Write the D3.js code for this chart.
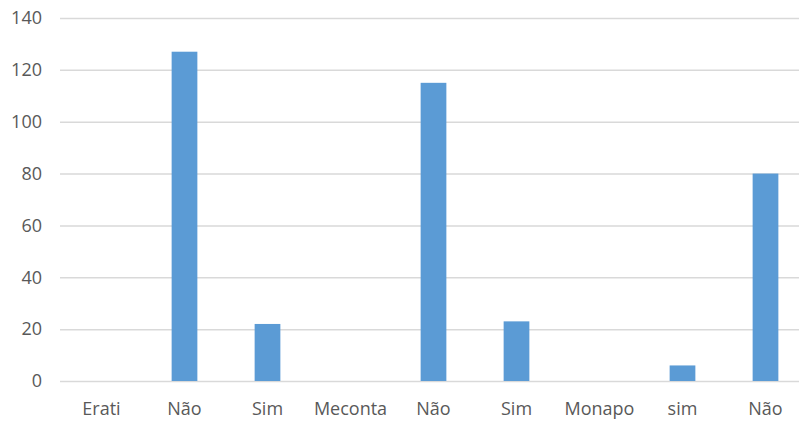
<!DOCTYPE html>
<html>
<head>
<meta charset="utf-8">
<script src="https://cdn.jsdelivr.net/npm/d3@7"></script>
<style>
  html, body { margin: 0; padding: 0; background: #fff; }
  svg { display: block; }
  text { font-family: "Open Sans", "Noto Sans", sans-serif; fill: #595959; }
</style>
</head>
<body>
<svg id="chart" width="799" height="421"></svg>
<script>
// Categories along the x axis and their counts
const categories = ["Erati", "Não", "Sim", "Meconta", "Não", "Sim", "Monapo", "sim", "Não"];
const values = [0, 127, 22, 0, 115, 23, 0, 6, 80];
const yTicks = [0, 20, 40, 60, 80, 100, 120, 140];

const svg = d3.select("#chart");

// Index-based band so repeated labels get their own slot
const x = d3.scaleBand()
  .domain(categories.map((d, i) => i))
  .range([60, 807])
  .paddingInner(0.69)
  .paddingOuter(0.345);

const y = d3.scaleLinear()
  .domain([0, 140])
  .range([381, 18]);

// Horizontal gridlines with value labels
const yAxis = d3.axisLeft(y)
  .tickValues(yTicks)
  .tickSize(-(807 - 60))
  .tickPadding(18)
  .tickFormat(d3.format("d"));

const gy = svg.append("g")
  .attr("transform", "translate(60,0)")
  .call(yAxis);
gy.select(".domain").remove();
gy.selectAll(".tick line")
  .attr("stroke", "#d9d9d9")
  .attr("stroke-width", 1.5);
gy.selectAll(".tick text")
  .style("font-size", "18px")
  .attr("fill", "#595959");

// Bars
svg.append("g")
  .selectAll("rect")
  .data(values)
  .join("rect")
  .attr("x", (d, i) => x(i))
  .attr("y", d => y(d))
  .attr("width", x.bandwidth())
  .attr("height", d => y(0) - y(d))
  .attr("fill", "#5b9bd5");

// Category labels
const xAxis = d3.axisBottom(x)
  .tickSize(0)
  .tickPadding(21)
  .tickFormat(i => categories[i]);

const gx = svg.append("g")
  .attr("transform", "translate(0,381)")
  .call(xAxis);
gx.select(".domain").remove();
gx.selectAll(".tick text")
  .style("font-size", "18px")
  .attr("fill", "#595959");
</script>
</body>
</html>
